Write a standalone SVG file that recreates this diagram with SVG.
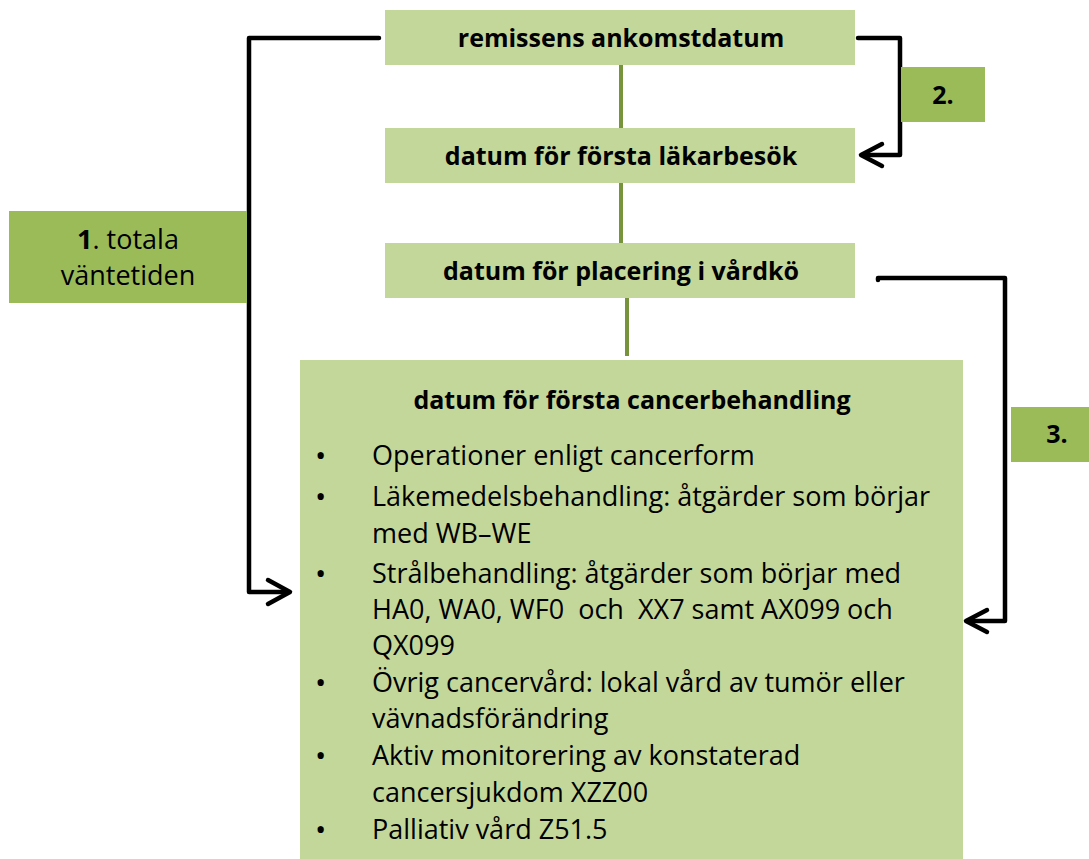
<svg xmlns="http://www.w3.org/2000/svg" width="1089" height="859" viewBox="0 0 1089 859">
<style>
.light{fill:#C4D79B}
.dark{fill:#9BBB59}
.t{font-family:"Open Sans","Liberation Sans",sans-serif;fill:#000}
.b{font-weight:bold;font-size:25px}
.r{font-size:27px}
.l{font-size:27px}
.bu{font-size:30px}
.g{stroke:#77933C;stroke-width:4;fill:none}
.k{stroke:#000;stroke-width:4.5;fill:none;stroke-linejoin:round;stroke-linecap:round}
</style>
<rect width="1089" height="859" fill="#fff"/>
<g id="connectors">
<line class="g" x1="621" y1="65" x2="621" y2="128"/>
<line class="g" x1="621" y1="183" x2="621" y2="243"/>
<line class="g" x1="627" y1="298" x2="627" y2="356"/>
<polyline class="k" points="379,38 249,38 249,592 288,592"/>
<polyline class="k" points="268,580 290,592 268,604"/>
<polyline class="k" points="858,38 900,38 900,155 862,155"/>
<polyline class="k" points="882,144 861,155 882,166"/>
<polyline class="k" points="878,280 878,278 1005,278 1005,621 967,621"/>
<polyline class="k" points="987,610 966,621 987,632"/>
</g>
<g id="label1">
<rect class="dark" x="9" y="211" width="238" height="92"/>
<text class="t l" x="128" y="249" text-anchor="middle"><tspan font-weight="bold">1</tspan>. totala</text>
<text class="t l" x="128" y="285" text-anchor="middle">väntetiden</text>
</g>
<g id="label2">
<rect class="dark" x="901" y="67" width="84" height="55"/>
<text class="t b" x="943" y="104" text-anchor="middle">2.</text>
</g>
<g id="label3">
<rect class="dark" x="1011" y="407" width="78" height="55"/>
<text class="t b" x="1057" y="443" text-anchor="middle">3.</text>
</g>
<g id="node-remiss">
<rect class="light" x="385" y="10" width="470" height="55"/>
<text class="t b" x="621" y="47" text-anchor="middle">remissens ankomstdatum</text>
</g>
<g id="node-lakarbesok">
<rect class="light" x="385" y="128" width="470" height="55"/>
<text class="t b" x="621" y="165" text-anchor="middle">datum för första läkarbesök</text>
</g>
<g id="node-vardko">
<rect class="light" x="385" y="243" width="470" height="55"/>
<text class="t b" x="621" y="280" text-anchor="middle">datum för placering i vårdkö</text>
</g>
<g id="node-behandling">
<rect class="light" x="300" y="360" width="663" height="499"/>
<text class="t b" x="632" y="409" text-anchor="middle">datum för första cancerbehandling</text>
<g class="t r">
<text class="bu" x="315" y="466">•</text><text x="372" y="465">Operationer enligt cancerform</text>
<text class="bu" x="315" y="507">•</text><text x="372" y="506">Läkemedelsbehandling: åtgärder som börjar</text>
<text x="372" y="543">med WB–WE</text>
<text class="bu" x="315" y="584">•</text><text x="372" y="583">Strålbehandling: åtgärder som börjar med</text>
<text x="372" y="619" xml:space="preserve">HA0, WA0, WF0  och  XX7 samt AX099 och</text>
<text x="372" y="655">QX099</text>
<text class="bu" x="315" y="693">•</text><text x="372" y="692">Övrig cancervård: lokal vård av tumör eller</text>
<text x="372" y="728">vävnadsförändring</text>
<text class="bu" x="315" y="766">•</text><text x="372" y="765">Aktiv monitorering av konstaterad</text>
<text x="372" y="802">cancersjukdom XZZ00</text>
<text class="bu" x="315" y="840">•</text><text x="372" y="839">Palliativ vård Z51.5</text>
</g>
</g>
</svg>
